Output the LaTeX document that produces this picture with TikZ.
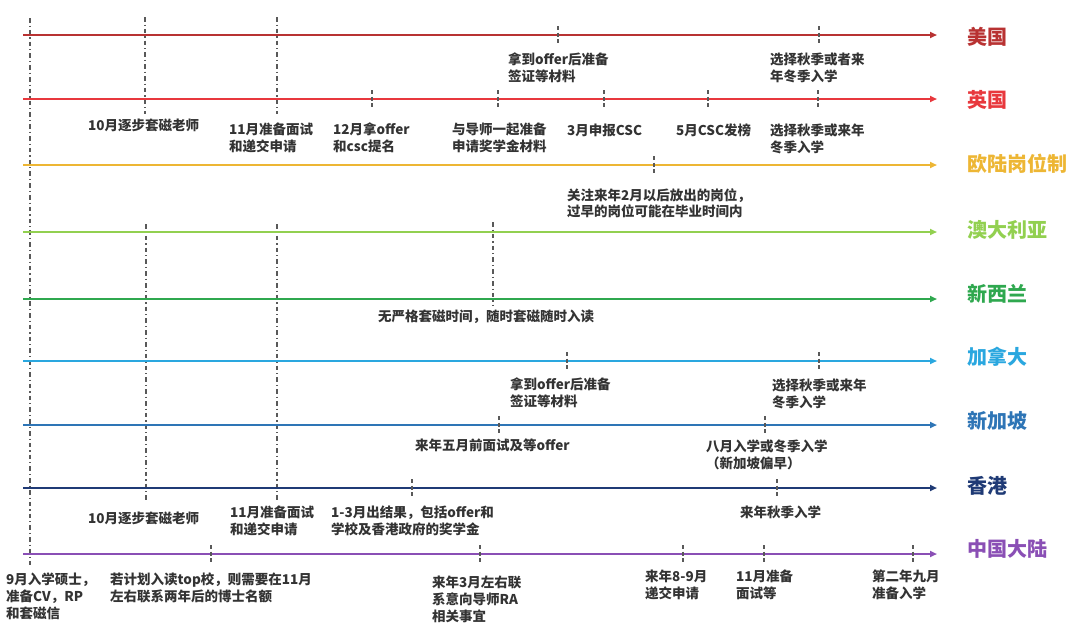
\documentclass[tikz,border=0pt]{standalone}
\usepackage{fontspec}
\setmainfont{Noto Sans CJK SC}
\usetikzlibrary{arrows.meta}
\definecolor{cUS}{HTML}{B83232}
\definecolor{cUK}{HTML}{E8383D}
\definecolor{cEU}{HTML}{EDB634}
\definecolor{cAU}{HTML}{92D050}
\definecolor{cNZ}{HTML}{2FA84F}
\definecolor{cCA}{HTML}{2AA7DF}
\definecolor{cSG}{HTML}{2E75B6}
\definecolor{cHK}{HTML}{1F3A75}
\definecolor{cCN}{HTML}{8A4FB5}
\definecolor{txtc}{HTML}{333333}
\begin{document}
\begin{tikzpicture}[x=1pt,y=-1pt,
  tl/.style={line width=1.8pt,-{Triangle[length=7pt,width=6pt]}},
  vdd/.style={draw=black!65,line width=1.1pt,dash pattern=on 4.5pt off 3pt on 1.3pt off 3pt},
  tick/.style={draw=black!65,line width=1.1pt,dash pattern=on 4pt off 2.5pt},
  txt/.style={anchor=north west,inner sep=0pt,align=left,text=txtc,font=\fontsize{13.5}{16.8}\selectfont\bfseries},
  ctry/.style={anchor=west,inner sep=0pt,font=\fontsize{20}{24}\selectfont\bfseries}]
\useasboundingbox (0,0) rectangle (1080,643);

% long dash-dot guide lines
\draw[vdd] (30,18) -- (30,565);
\draw[vdd] (145,17) -- (145,114);
\draw[vdd] (277,17) -- (277,114);
\draw[vdd] (146,224) -- (146,500);
\draw[vdd] (277,224) -- (277,500);
\draw[vdd] (493,222) -- (493,305);

% timelines
\foreach \n/\yy/\c/\t in {1/35/cUS/美国,2/99/cUK/英国,3/165/cEU/欧陆岗位制,4/232/cAU/澳大利亚,5/299/cNZ/新西兰,6/361/cCA/加拿大,7/425/cSG/新加坡,8/488/cHK/香港,9/554/cCN/中国大陆}{
  \coordinate (s\n) at (23,\yy);
  \coordinate (e\n) at (937,\yy);
  \draw[tl,\c] (s\n) -- (e\n);
}
\node[ctry,text=cUS] (l1) at (967,37) {美国};
\node[ctry,text=cUK] (l2) at (967,100) {英国};
\node[ctry,text=cEU] (l3) at (967,164) {欧陆岗位制};
\node[ctry,text=cAU] (l4) at (967,230) {澳大利亚};
\node[ctry,text=cNZ] (l5) at (967,294) {新西兰};
\node[ctry,text=cCA] (l6) at (967,357) {加拿大};
\node[ctry,text=cSG] (l7) at (967,421) {新加坡};
\node[ctry,text=cHK] (l8) at (967,486) {香港};
\node[ctry,text=cCN] (l9) at (967,549) {中国大陆};

% short ticks
\foreach \x/\yy in {558/35,819/35,
  372/99,498/99,604/99,708/99,818/99,
  654/165,
  567/361,819/361,
  499/425,765/425,
  412/488,777/488,
  211/554,480/554,683/554,764/554,913/554}{
  \draw[tick] (\x,\yy-9) -- (\x,\yy+9);
}

% texts
\node[txt] (t1) at (508,53) {拿到offer后准备\\签证等材料};
\node[txt] (t2) at (770,53) {选择秋季或者来\\年冬季入学};
\node[txt] (t3) at (88,119) {10月逐步套磁老师};
\node[txt] (t4) at (229,123) {11月准备面试\\和递交申请};
\node[txt] (t5) at (333,123) {12月拿offer\\和csc提名};
\node[txt] (t6) at (452,123) {与导师一起准备\\申请奖学金材料};
\node[txt] (t7) at (567,124) {3月申报CSC};
\node[txt] (t8) at (676,124) {5月CSC发榜};
\node[txt] (t9) at (770,124) {选择秋季或来年\\冬季入学};
\node[txt] (t10) at (567,188) {关注来年2月以后放出的岗位，\\过早的岗位可能在毕业时间内};
\node[txt] (t11) at (378,310) {无严格套磁时间，随时套磁随时入读};
\node[txt] (t12) at (510,378) {拿到offer后准备\\签证等材料};
\node[txt] (t13) at (772,379) {选择秋季或来年\\冬季入学};
\node[txt] (t14) at (415,439) {来年五月前面试及等offer};
\node[txt] (t15) at (706,440) {八月入学或冬季入学\\（新加坡偏早）};
\node[txt] (t16) at (88,512) {10月逐步套磁老师};
\node[txt] (t17) at (230,506) {11月准备面试\\和递交申请};
\node[txt] (t18) at (331,506) {1-3月出结果，包括offer和\\学校及香港政府的奖学金};
\node[txt] (t19) at (740,506) {来年秋季入学};
\node[txt] (t20) at (6,573) {9月入学硕士，\\准备CV，RP\\和套磁信};
\node[txt] (t21) at (110,573) {若计划入读top校，则需要在11月\\左右联系两年后的博士名额};
\node[txt] (t22) at (432,576) {来年3月左右联\\系意向导师RA\\相关事宜};
\node[txt] (t23) at (645,570) {来年8-9月\\递交申请};
\node[txt] (t24) at (736,570) {11月准备\\面试等};
\node[txt] (t25) at (872,570) {第二年九月\\准备入学};
\end{tikzpicture}
\end{document}
